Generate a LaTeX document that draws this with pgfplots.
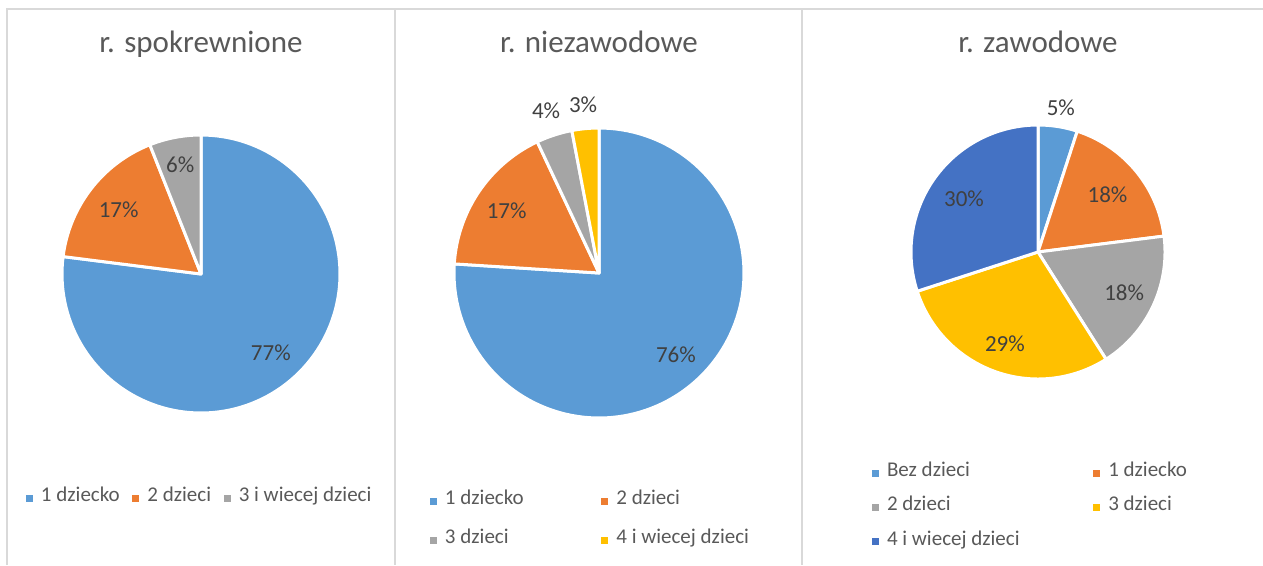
\documentclass[border=0pt]{standalone}
\usepackage{fontspec}
\setmainfont{Carlito}
\usepackage{pgfplots}
\pgfplotsset{compat=1.18}

\definecolor{c1}{HTML}{5B9BD5}
\definecolor{c2}{HTML}{ED7D31}
\definecolor{c3}{HTML}{A5A5A5}
\definecolor{c4}{HTML}{FFC000}
\definecolor{c5}{HTML}{4472C4}
\definecolor{ctitle}{HTML}{595959}
\definecolor{clabel}{HTML}{404040}
\definecolor{cborder}{HTML}{D9D9D9}

\newcommand\titlefont{\fontsize{23.25pt}{28pt}\selectfont}
\newcommand\lblfont{\fontsize{17.25pt}{20pt}\selectfont}
\newcommand\legendfont{\fontsize{15.75pt}{19pt}\selectfont}

\tikzset{lbl/.style={font=\lblfont, text=clabel, inner sep=0pt}}

\pgfplotsset{
  legend image code/.code={\fill[#1, draw=none] (0pt,-2.6pt) rectangle (5.25pt,2.6pt);},
  pieax/.style={
    hide axis, scale only axis, clip=false,
    xmin=-1, xmax=1, ymin=-1, ymax=1,
    anchor=center,
    title style={font=\titlefont, text=ctitle, anchor=base, inner sep=0pt},
    legend cell align=left,
    legend style={draw=none, fill=none, inner sep=0pt, outer sep=0pt,
      anchor=north west, font=\legendfont, text=ctitle,
      nodes={inner sep=0pt, text height=0.75em, text depth=0.25em},
      /tikz/every odd column/.append style={column sep=6pt}},
  },
}

% start %, share %, colour, label radius
\newcommand{\slice}[4]{%
  \addplot[fill=#3, draw=white, line width=2.25pt, line join=round,
    domain={90-3.6*(#1+#2)}:{90-3.6*(#1)}, samples=120, variable=\t]
    ({cos(\t)},{sin(\t)}) -- (axis cs:0,0) -- cycle;
  \node[lbl] at (axis cs:{#4*cos(90-3.6*(#1+0.5*#2))},{#4*sin(90-3.6*(#1+0.5*#2))}) {#2\%};
}

\begin{document}
\begin{tikzpicture}[x=0.75pt, y=-0.75pt]
\useasboundingbox (0,0) rectangle (1263,565);
\draw[cborder, line width=1.5pt] (7,565) -- (7,9) -- (1263,9);
\draw[cborder, line width=1.5pt] (395,9) -- (395,565);
\draw[cborder, line width=1.5pt] (802,9) -- (802,565);

\begin{axis}[pieax, at={(150.75pt,-205.5pt)}, width=208.5pt, height=208.5pt,
  title={r. spokrewnione},
  title style={at={(axis description cs:0.5,1.2698)}},
  legend columns=3,
  legend style={at={(axis description cs:-0.1295,-0.2824)},
    /tikz/every even column/.append style={column sep=9.5pt}}]
\slice{0}{77}{c1}{0.76}
\slice{77}{17}{c2}{0.75}
\slice{94}{6}{c3}{0.80}
\legend{1 dziecko, 2 dzieci, 3 i wiecej dzieci}
\end{axis}

\begin{axis}[pieax, at={(449.25pt,-204.75pt)}, width=217.5pt, height=217.5pt,
  title={r. niezawodowe},
  title style={at={(axis description cs:0.5,1.2345)}},
  legend columns=2,
  legend style={at={(axis description cs:-0.0828,-0.2638)}, row sep=19.5pt,
    /tikz/every even column/.append style={column sep=58.2pt}}]
\slice{0}{76}{c1}{0.775}
\slice{76}{17}{c2}{0.77}
\slice{93}{4}{c3}{1.18}
\slice{97}{3}{c4}{1.166}
\legend{1 dziecko, 2 dzieci, 3 dzieci, 4 i wiecej dzieci}
\end{axis}

\begin{axis}[pieax, at={(778.5pt,-189pt)}, width=190.5pt, height=190.5pt,
  title={r. zawodowe},
  title style={at={(axis description cs:0.5,1.2559)}},
  legend columns=2,
  legend style={at={(axis description cs:-0.1535,-0.3445)}, row sep=15.75pt,
    /tikz/every even column/.append style={column sep=55.2pt}}]
\slice{0}{5}{c1}{1.15}
\slice{5}{18}{c2}{0.71}
\slice{23}{18}{c3}{0.75}
\slice{41}{29}{c4}{0.77}
\slice{70}{30}{c5}{0.72}
\legend{Bez dzieci, 1 dziecko, 2 dzieci, 3 dzieci, 4 i wiecej dzieci}
\end{axis}
\end{tikzpicture}
\end{document}
